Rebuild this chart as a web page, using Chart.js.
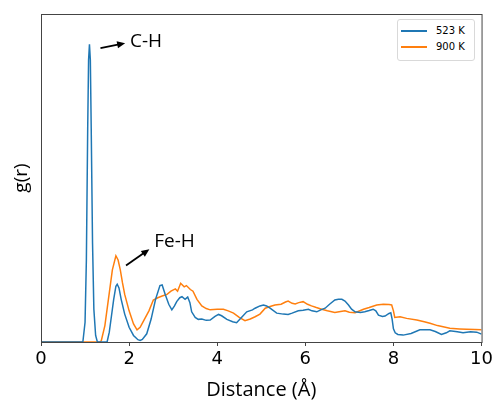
<!DOCTYPE html>
<html>
<head>
<meta charset="utf-8">
<script src="https://cdn.jsdelivr.net/npm/chart.js@4.4.1/dist/chart.umd.min.js"></script>
<style>
  body { margin: 0; background: #fff; }
  #wrap { position: relative; width: 496px; height: 403px; }
  #legend {
    position: absolute; left: 397px; top: 19px; width: 78px; height: 42px;
    border: 1px solid #d9d9d9; border-radius: 3px; background: #fff;
    font-family: "DejaVu Sans", sans-serif; font-size: 10px; color: #000;
    box-sizing: border-box; padding: 3px 0 0 3px;
  }
  #legend div { height: 16px; line-height: 16px; white-space: nowrap; }
  #legend span.swatch { display: inline-block; width: 26px; height: 1.5px; vertical-align: middle; margin-right: 9px; }
</style>
</head>
<body>
<div id="wrap">
  <canvas id="grChart"></canvas>
  <div id="legend"></div>
</div>
<script>
// distance (Å) and g(r) values
var r523 = [0, 0.9, 0.95, 1.0, 1.03, 1.06, 1.08, 1.10, 1.12, 1.14, 1.17, 1.2, 1.24, 1.28, 1.5, 1.55, 1.6, 1.65, 1.7, 1.73, 1.77, 1.82, 1.9, 2.0, 2.1, 2.2, 2.25, 2.3, 2.4, 2.5, 2.6, 2.7, 2.75, 2.82, 2.9, 2.97, 3.03, 3.08, 3.15, 3.20, 3.27, 3.33, 3.38, 3.42, 3.5, 3.57, 3.65, 3.75, 3.84, 3.95, 4.03, 4.1, 4.22, 4.35, 4.44, 4.55, 4.67, 4.8, 4.86, 4.97, 5.05, 5.12, 5.20, 5.35, 5.5, 5.61, 5.7, 5.84, 5.95, 6.07, 6.15, 6.26, 6.35, 6.45, 6.55, 6.67, 6.75, 6.83, 6.90, 6.98, 7.05, 7.13, 7.25, 7.35, 7.45, 7.54, 7.6, 7.66, 7.75, 7.81, 7.9, 7.94, 7.97, 8.0, 8.04, 8.1, 8.22, 8.4, 8.6, 8.83, 8.95, 9.09, 9.2, 9.28, 9.45, 9.58, 9.75, 9.89, 10];
var g523 = [0, 0, 0, 0.6, 2.5, 6.5, 8.6, 9.08, 8.6, 6.5, 3.0, 1.0, 0.2, 0, 0, 0.3, 0.8, 1.3, 1.7, 1.76, 1.65, 1.3, 0.85, 0.45, 0.2, 0.07, 0.05, 0.08, 0.25, 0.7, 1.3, 1.72, 1.74, 1.45, 1.15, 0.98, 1.1, 1.23, 1.35, 1.38, 1.30, 1.37, 1.2, 0.92, 0.75, 0.69, 0.70, 0.66, 0.67, 0.78, 0.84, 0.80, 0.69, 0.62, 0.59, 0.75, 0.92, 0.98, 1.03, 1.10, 1.13, 1.10, 1.03, 0.88, 0.85, 0.84, 0.88, 0.95, 0.97, 1.0, 0.95, 0.92, 0.98, 1.03, 1.15, 1.28, 1.30, 1.30, 1.25, 1.13, 1.0, 0.92, 0.90, 0.92, 0.96, 1.0, 0.95, 0.82, 0.78, 0.79, 0.87, 0.89, 0.7, 0.4, 0.28, 0.23, 0.21, 0.26, 0.37, 0.37, 0.32, 0.23, 0.28, 0.34, 0.31, 0.28, 0.31, 0.30, 0.24];

var r900 = [0, 1.35, 1.37, 1.45, 1.55, 1.62, 1.70, 1.75, 1.8, 1.85, 1.9, 2.0, 2.1, 2.18, 2.25, 2.35, 2.45, 2.55, 2.65, 2.75, 2.86, 2.95, 3.05, 3.10, 3.17, 3.25, 3.30, 3.39, 3.45, 3.54, 3.65, 3.75, 3.84, 4.0, 4.14, 4.25, 4.37, 4.5, 4.63, 4.75, 4.86, 4.97, 5.09, 5.2, 5.31, 5.45, 5.55, 5.61, 5.7, 5.77, 5.85, 5.95, 6.05, 6.14, 6.25, 6.37, 6.5, 6.67, 6.8, 6.90, 7.0, 7.13, 7.32, 7.45, 7.62, 7.77, 7.9, 7.96, 8.0, 8.03, 8.15, 8.3, 8.53, 8.7, 8.83, 9.0, 9.28, 9.5, 9.66, 9.85, 10];
var g900 = [0, 0, 0.05, 0.5, 1.5, 2.2, 2.63, 2.5, 2.2, 1.8, 1.45, 0.95, 0.55, 0.37, 0.45, 0.7, 0.95, 1.28, 1.35, 1.40, 1.45, 1.55, 1.62, 1.55, 1.79, 1.68, 1.72, 1.60, 1.55, 1.30, 1.10, 1.02, 0.98, 1.0, 1.0, 0.95, 0.88, 0.75, 0.65, 0.7, 0.77, 0.85, 1.03, 1.08, 1.13, 1.15, 1.22, 1.25, 1.18, 1.16, 1.2, 1.23, 1.15, 1.10, 1.05, 1.0, 0.95, 0.90, 0.93, 0.95, 0.91, 0.89, 1.0, 1.05, 1.13, 1.15, 1.14, 1.13, 0.95, 0.75, 0.77, 0.72, 0.67, 0.62, 0.57, 0.5, 0.42, 0.40, 0.39, 0.38, 0.37];

var xTicks = [0, 2, 4, 6, 8, 10];

// labels with arrows: [text, textX, textY, arrowFromX, arrowFromY, arrowToX, arrowToY]
var notes = [
  ["C-H", 2.02, 9.15, 1.35, 8.96, 1.91, 9.11],
  ["Fe-H", 2.57, 3.05, 1.93, 2.33, 2.46, 2.83]
];

function toPoints(xs, ys) {
  return xs.map(function(x, i) { return { x: x, y: ys[i] }; });
}

var framePlugin = {
  id: 'frame',
  afterDraw: function(chart) {
    var ctx = chart.ctx, a = chart.chartArea;
    var sx = chart.scales.x, sy = chart.scales.y;
    ctx.save();
    ctx.strokeStyle = '#444';
    ctx.lineWidth = 1;
    ctx.strokeRect(a.left + 0.5, a.top + 0.5, a.right - a.left, a.bottom - a.top);

    ctx.fillStyle = '#000';
    ctx.strokeStyle = '#000';
    ctx.font = '19px "Open Sans", sans-serif';
    ctx.textBaseline = 'middle';
    notes.forEach(function(n) {
      ctx.fillText(n[0], sx.getPixelForValue(n[1]), sy.getPixelForValue(n[2]));
      var x1 = sx.getPixelForValue(n[3]), y1 = sy.getPixelForValue(n[4]);
      var x2 = sx.getPixelForValue(n[5]), y2 = sy.getPixelForValue(n[6]);
      var ang = Math.atan2(y2 - y1, x2 - x1);
      ctx.lineWidth = 1.8;
      ctx.beginPath();
      ctx.moveTo(x1, y1);
      ctx.lineTo(x2 - 5 * Math.cos(ang), y2 - 5 * Math.sin(ang));
      ctx.stroke();
      ctx.beginPath();
      ctx.moveTo(x2, y2);
      ctx.lineTo(x2 - 8 * Math.cos(ang) + 3.5 * Math.sin(ang), y2 - 8 * Math.sin(ang) - 3.5 * Math.cos(ang));
      ctx.lineTo(x2 - 8 * Math.cos(ang) - 3.5 * Math.sin(ang), y2 - 8 * Math.sin(ang) + 3.5 * Math.cos(ang));
      ctx.closePath();
      ctx.fill();
    });
    ctx.restore();
  }
};

var data = {
  datasets: [
    { label: '523 K', data: toPoints(r523, g523), borderColor: '#1f77b4', backgroundColor: '#1f77b4' },
    { label: '900 K', data: toPoints(r900, g900), borderColor: '#ff7f0e', backgroundColor: '#ff7f0e' }
  ]
};

var chart = new Chart(document.getElementById('grChart').getContext('2d'), {
  type: 'line',
  data: data,
  options: {
    responsive: true,
    maintainAspectRatio: false,
    animation: false,
    layout: { padding: { top: 14, right: 14, left: 0, bottom: 0 } },
    elements: {
      point: { radius: 0 },
      line: { borderWidth: 1.5, tension: 0 }
    },
    plugins: { legend: { display: false }, tooltip: { enabled: false } },
    scales: {
      x: {
        type: 'linear', min: 0, max: 10,
        afterBuildTicks: function(scale) { scale.ticks = xTicks.map(function(v) { return { value: v }; }); },
        afterFit: function(scale) { scale.height = 61; },
        grid: { drawOnChartArea: false, drawTicks: true, tickLength: 4, color: '#444' },
        border: { color: '#444' },
        ticks: { color: '#000', padding: 3, font: { family: 'DejaVu Sans', size: 18 } },
        title: { display: true, text: 'Distance (Å)', color: '#000', padding: { top: 0, bottom: 1 }, font: { family: 'Open Sans', size: 20 } }
      },
      y: {
        min: 0, max: 10,
        afterFit: function(scale) { scale.width = 41; },
        grid: { display: false },
        border: { color: '#444' },
        ticks: { display: false },
        title: { display: true, text: 'g(r)', color: '#000', padding: { top: 10, bottom: 0 }, font: { family: 'Open Sans', size: 19 } }
      }
    }
  },
  plugins: [framePlugin]
});

// legend built from the datasets
var legendBox = document.getElementById('legend');
data.datasets.forEach(function(ds) {
  var row = document.createElement('div');
  row.innerHTML = '<span class="swatch" style="background:' + ds.borderColor + '"></span>' + ds.label;
  legendBox.appendChild(row);
});
</script>
</body>
</html>
